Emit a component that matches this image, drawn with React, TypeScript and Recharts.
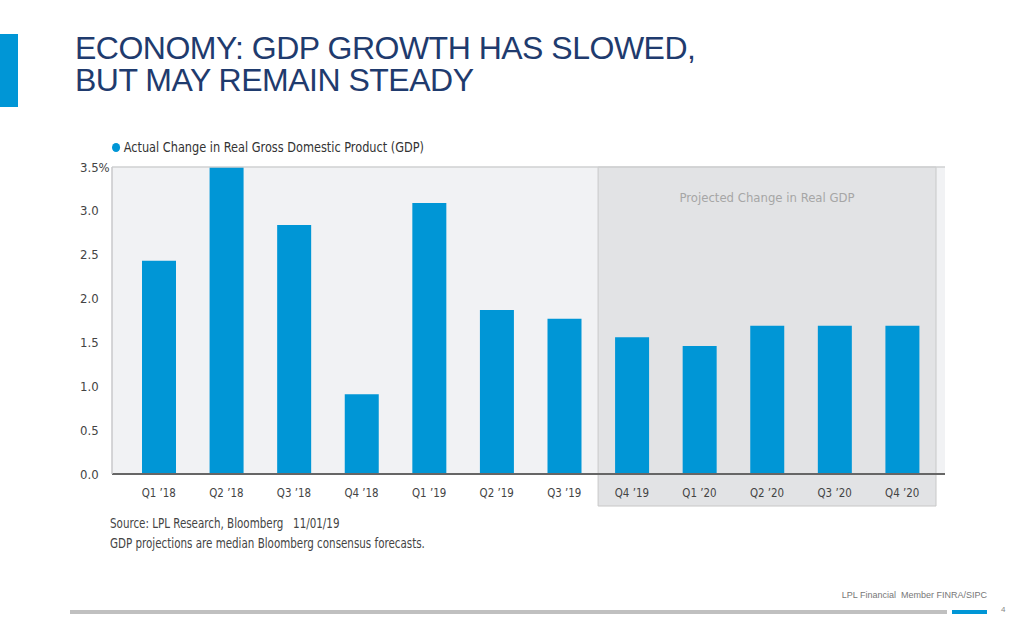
import React from "react";
import {
  Bar,
  BarChart,
  CartesianGrid,
  ReferenceArea,
  ReferenceLine,
  XAxis,
  YAxis,
} from "recharts";

const quarters = [
  "Q1 ’18", "Q2 ’18", "Q3 ’18", "Q4 ’18", "Q1 ’19", "Q2 ’19",
  "Q3 ’19", "Q4 ’19", "Q1 ’20", "Q2 ’20", "Q3 ’20", "Q4 ’20",
];
const gdpChange = [2.43, 3.5, 2.84, 0.91, 3.09, 1.87, 1.77, 1.56, 1.46, 1.69, 1.69, 1.69];
const yTicks = [0, 0.5, 1, 1.5, 2, 2.5, 3, 3.5];
const projectedFrom = "Q4 ’19";
const projectedTo = "Q4 ’20";

const data = quarters.map((q, i) => ({ quarter: q, gdp: gdpChange[i] }));

const BLUE = "#0096d6";
const NARROW = '"Liberation Sans Narrow", "DejaVu Sans Condensed", "Roboto", sans-serif';
const TITLE_FONT = '"Liberation Sans", Arial, sans-serif';

function YTick({ x, y, payload }: any) {
  const v = payload.value as number;
  return (
    <text x={x - 32} y={y} dy="0.35em" textAnchor="start" fontSize={13} fill="#444">
      {v === 3.5 ? "3.5%" : v.toFixed(1)}
    </text>
  );
}

function XTick({ x, y, payload }: any) {
  return (
    <text
      x={x}
      y={y}
      dy="0.71em"
      textAnchor="middle"
      fontSize={13}
      fill="#444"
      transform={`translate(${x} 0) scale(0.88 1) translate(${-x} 0)`}
    >
      {payload.value}
    </text>
  );
}

const titleStyle: React.CSSProperties = {
  position: "absolute",
  left: 75,
  fontFamily: TITLE_FONT,
  fontSize: 32,
  lineHeight: "31px",
  letterSpacing: -0.5,
  color: "#1f3b6e",
  whiteSpace: "nowrap",
};

export default function App() {
  return (
    <div
      style={{
        position: "absolute",
        left: 0,
        top: 0,
        width: 1024,
        height: 640,
        background: "#fff",
        fontFamily: NARROW,
        overflow: "hidden",
      }}
    >
      <div style={{ position: "absolute", left: 0, top: 34, width: 18, height: 73, background: BLUE }} />
      <div style={{ ...titleStyle, top: 33 }}>ECONOMY: GDP GROWTH HAS SLOWED,</div>
      <div style={{ ...titleStyle, top: 65 }}>BUT MAY REMAIN STEADY</div>

      <div
        style={{
          position: "absolute",
          left: 112,
          top: 139,
          fontSize: 14,
          color: "#333",
          display: "flex",
          alignItems: "center",
          whiteSpace: "nowrap",
          transform: "scaleX(0.9)",
          transformOrigin: "left center",
        }}
      >
        <span
          style={{ width: 9, height: 9, borderRadius: 5, background: BLUE, display: "inline-block", marginRight: 4 }}
        />
        Actual Change in Real Gross Domestic Product (GDP)
      </div>

      <div style={{ position: "absolute", left: 0, top: 0 }}>
        <BarChart
          width={1024}
          height={640}
          data={data}
          margin={{ top: 167, right: 79, bottom: 136, left: 80 }}
          barSize={34}
        >
          <CartesianGrid fill="#f1f2f4" horizontal={false} vertical={false} />
          <ReferenceArea
            x1={projectedFrom}
            x2={projectedTo}
            y1={-0.365}
            y2={3.5}
            ifOverflow="visible"
            fill="#e2e3e5"
            fillOpacity={1}
            stroke="#c8c8c8"
            strokeWidth={1}
            label={{
              value: "Projected Change in Real GDP",
              position: "insideTop",
              offset: 26,
              fill: "#a6a6a6",
              fontSize: 13,
            }}
          />
          <ReferenceLine y={3.5} stroke="#cfd0d2" strokeWidth={1.5} />
          <XAxis
            dataKey="quarter"
            height={30}
            padding={{ left: 13, right: 9 }}
            tickSize={0}
            tickMargin={14}
            axisLine={{ stroke: "#666", strokeWidth: 2 }}
            tick={<XTick />}
            interval={0}
          />
          <YAxis
            width={32}
            domain={[0, 3.5]}
            ticks={yTicks}
            tickSize={0}
            tickMargin={0}
            axisLine={{ stroke: "#c8c9cb", strokeWidth: 1.5 }}
            tick={<YTick />}
            interval={0}
          />
          <Bar dataKey="gdp" fill={BLUE} isAnimationActive={false} />
        </BarChart>
      </div>

      <div
        style={{
          position: "absolute",
          left: 110,
          top: 513,
          fontSize: 14,
          color: "#444",
          lineHeight: "20px",
          whiteSpace: "nowrap",
          transform: "scaleX(0.82)",
          transformOrigin: "left top",
        }}
      >
        Source: LPL Research, Bloomberg&nbsp;&nbsp;&nbsp;11/01/19
        <br />
        GDP projections are median Bloomberg consensus forecasts.
      </div>

      <div
        style={{
          position: "absolute",
          right: 37,
          top: 590,
          fontFamily: TITLE_FONT,
          fontSize: 9,
          color: "#777",
        }}
      >
        LPL Financial&nbsp; Member FINRA/SIPC
      </div>
      <div style={{ position: "absolute", left: 70, top: 610, width: 877, height: 4, background: "#c0c0c0" }} />
      <div style={{ position: "absolute", left: 952, top: 610, width: 35, height: 4, background: BLUE }} />
      <div
        style={{
          position: "absolute",
          left: 1001,
          top: 605,
          fontFamily: TITLE_FONT,
          fontSize: 8,
          color: "#888",
        }}
      >
        4
      </div>
    </div>
  );
}
